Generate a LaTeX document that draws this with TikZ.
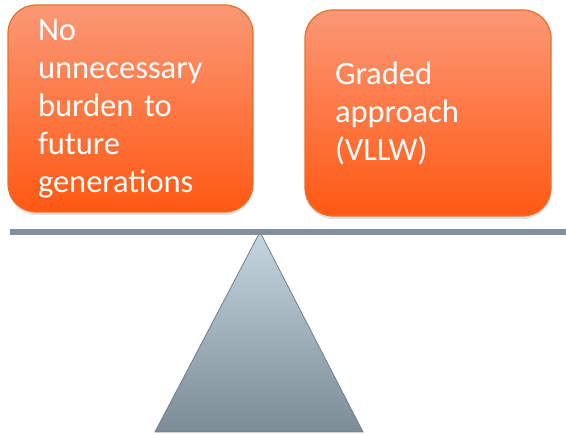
\documentclass[tikz,border=0pt]{standalone}
\usepackage{fontspec}
\setmainfont{Carlito}
\usetikzlibrary{shadows}

\definecolor{boxtop}{RGB}{251,152,118}
\definecolor{boxbottom}{RGB}{255,88,18}
\definecolor{boxedge}{RGB}{232,112,40}
\definecolor{beamgray}{RGB}{128,144,155}
\definecolor{pivottop}{RGB}{197,214,224}
\definecolor{pivotbottom}{RGB}{124,140,151}

\tikzset{
  weight/.style={rounded corners=28pt, draw=boxedge, line width=1.2pt,
    top color=boxtop, bottom color=boxbottom,
    drop shadow={opacity=0.25, shadow xshift=0pt, shadow yshift=-3pt},
    text=white, align=left, inner xsep=30pt, inner ysep=4pt,
    font=\fontsize{32.5}{38}\selectfont},
}

\begin{document}
\begin{tikzpicture}[x=1pt, y=-1pt]
\useasboundingbox (0,0) rectangle (566,435);

% pivot
\draw[draw=pivotbottom!90!black, line width=0.8pt, top color=pivottop, bottom color=pivotbottom]
  (260,232) -- (363,432) -- (155,432) -- cycle;

% beam
\draw[beamgray, line width=6pt] (10,232) -- (566,232);

% the two weights
\node[weight, minimum width=245pt, minimum height=207pt, text width=185pt]
  (burden) at (130.5,108.5) {No\\unnecessary\\burden to\\future\\generations\\[-4pt]};
\node[weight, minimum width=246pt, minimum height=206pt, text width=186pt]
  (graded) at (428,113) {Graded\\approach\\(VLLW)\\[6pt]};

\end{tikzpicture}
\end{document}
